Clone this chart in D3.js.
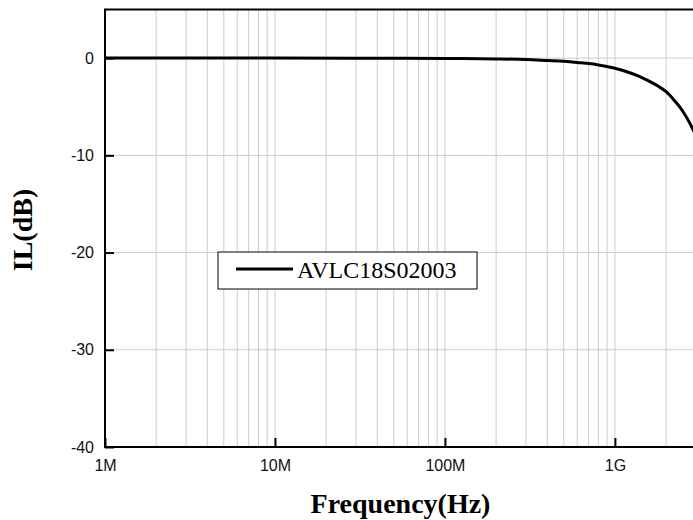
<!DOCTYPE html>
<html>
    <head>
        <meta charset='utf-8'>
        <title>Insertion Loss</title>
        <style>
            body { margin: 0; background: #fff; }
            svg { display: block; }
        </style>
    </head>
    <body>
        <script src='https://cdnjs.cloudflare.com/ajax/libs/d3/7.8.5/d3.min.js'></script>
        <script>
            const freqs = [1e6, 1e7, 5e7, 1e8, 2e8, 3e8, 4e8, 5e8, 6e8, 8e8, 1e9, 1.2e9, 1.4e9, 1.6e9, 1.8e9, 2e9, 2.2e9, 2.4e9, 2.6e9, 2.8e9, 3e9];
            const ilValues = [0, 0, -0.02, -0.03, -0.08, -0.15, -0.25, -0.33, -0.45, -0.7, -1.05, -1.45, -1.9, -2.4, -2.9, -3.45, -4.2, -5.0, -5.9, -6.9, -8.0];
            const seriesName = 'AVLC18S02003';
            const xTickValues = [1e6, 1e7, 1e8, 1e9];
            const xTickLabels = ['1M', '10M', '100M', '1G'];
            const yTickValues = [0, -10, -20, -30, -40];

            const w = 693;
            const h = 520;
            const plot = {left: 105, right: 696, top: 9.5, bottom: 447};

            const svg = d3
                .select('body')
                .append('svg')
                .attr('width', w)
                .attr('height', h);

            const x = d3
                .scaleLog()
                .domain([1e6, 3e9])
                .range([plot.left, plot.right]);

            const y = d3
                .scaleLinear()
                .domain([-40, 5])
                .range([plot.bottom, plot.top]);

            // grid: every 1..9 of each decade, and each 10 dB
            const minorX = [];
            for (let dec = 1e6; dec < 3e9; dec *= 10) {
                for (let k = 1; k < 10; k++) {
                    const f = dec * k;
                    if (f > 1e6 && f <= 3e9) minorX.push(f);
                }
            }

            const grid = svg.append('g').attr('id', 'grid');
            grid.selectAll('line.vx')
                .data(minorX)
                .enter()
                .append('line')
                .attr('class', 'vx')
                .attr('x1', (d)=>x(d))
                .attr('x2', (d)=>x(d))
                .attr('y1', plot.top)
                .attr('y2', plot.bottom)
                .attr('stroke', '#cccccc')
                .attr('stroke-width', 1);

            grid.selectAll('line.hy')
                .data(yTickValues.filter((d)=>d > -40))
                .enter()
                .append('line')
                .attr('class', 'hy')
                .attr('x1', plot.left)
                .attr('x2', plot.right)
                .attr('y1', (d)=>y(d))
                .attr('y2', (d)=>y(d))
                .attr('stroke', '#cccccc')
                .attr('stroke-width', 1);

            // axes with inward ticks
            const xAxis = d3
                .axisTop(x)
                .tickValues(xTickValues)
                .tickSize(9)
                .tickFormat((d, i)=>xTickLabels[i]);

            const xg = svg.append('g')
                .attr('transform', 'translate(0,' + plot.bottom + ')')
                .call(xAxis);
            xg.select('.domain').remove();
            xg.selectAll('line').attr('stroke', '#000').attr('stroke-width', 2);
            xg.selectAll('text')
                .attr('y', 24)
                .attr('dy', 0)
                .attr('fill', '#111')
                .style('font-family', '"Liberation Sans", Arial, sans-serif')
                .style('font-size', '16px');

            const yAxis = d3
                .axisRight(y)
                .tickValues(yTickValues)
                .tickSize(9)
                .tickFormat((d)=>String(d));

            const yg = svg.append('g')
                .attr('transform', 'translate(' + plot.left + ',0)')
                .call(yAxis);
            yg.select('.domain').remove();
            yg.selectAll('line').attr('stroke', '#000').attr('stroke-width', 2);
            yg.selectAll('text')
                .attr('x', -11)
                .attr('text-anchor', 'end')
                .attr('fill', '#111')
                .style('font-family', '"Liberation Sans", Arial, sans-serif')
                .style('font-size', '16px');

            // frame
            svg.append('rect')
                .attr('x', plot.left)
                .attr('y', plot.top)
                .attr('width', plot.right - plot.left)
                .attr('height', plot.bottom - plot.top)
                .attr('fill', 'none')
                .attr('stroke', '#000')
                .attr('stroke-width', 2);

            // curve
            const pts = freqs.map((f, i)=>[f, ilValues[i]]);
            const line = d3.line()
                .x((d)=>x(d[0]))
                .y((d)=>y(d[1]))
                .curve(d3.curveMonotoneX);

            svg.append('path')
                .datum(pts)
                .attr('d', line)
                .attr('fill', 'none')
                .attr('stroke', '#000')
                .attr('stroke-width', 3);

            // legend
            const legend = svg.append('g').attr('id', 'legend');
            legend.append('rect')
                .attr('x', 218)
                .attr('y', 252)
                .attr('width', 259)
                .attr('height', 37)
                .attr('fill', '#fff')
                .attr('stroke', '#000')
                .attr('stroke-width', 1);
            legend.append('line')
                .attr('x1', 236)
                .attr('x2', 293)
                .attr('y1', 269)
                .attr('y2', 269)
                .attr('stroke', '#000')
                .attr('stroke-width', 3);
            legend.append('text')
                .attr('x', 297)
                .attr('y', 277.5)
                .text(seriesName)
                .style('font-family', '"Liberation Serif", "Times New Roman", serif')
                .style('font-size', '24px')
                .attr('fill', '#000');

            // axis titles
            svg.append('text')
                .attr('x', (plot.left + plot.right) / 2)
                .attr('y', 513)
                .attr('text-anchor', 'middle')
                .text('Frequency(Hz)')
                .style('font-family', '"Liberation Serif", "Times New Roman", serif')
                .style('font-size', '28px')
                .style('font-weight', 'bold');

            svg.append('text')
                .attr('transform', 'translate(32,' + 230 + ') rotate(-90)')
                .attr('text-anchor', 'middle')
                .text('IL(dB)')
                .style('font-family', '"Liberation Serif", "Times New Roman", serif')
                .style('font-size', '28px')
                .style('font-weight', 'bold');
        </script>
    </body>
</html>
